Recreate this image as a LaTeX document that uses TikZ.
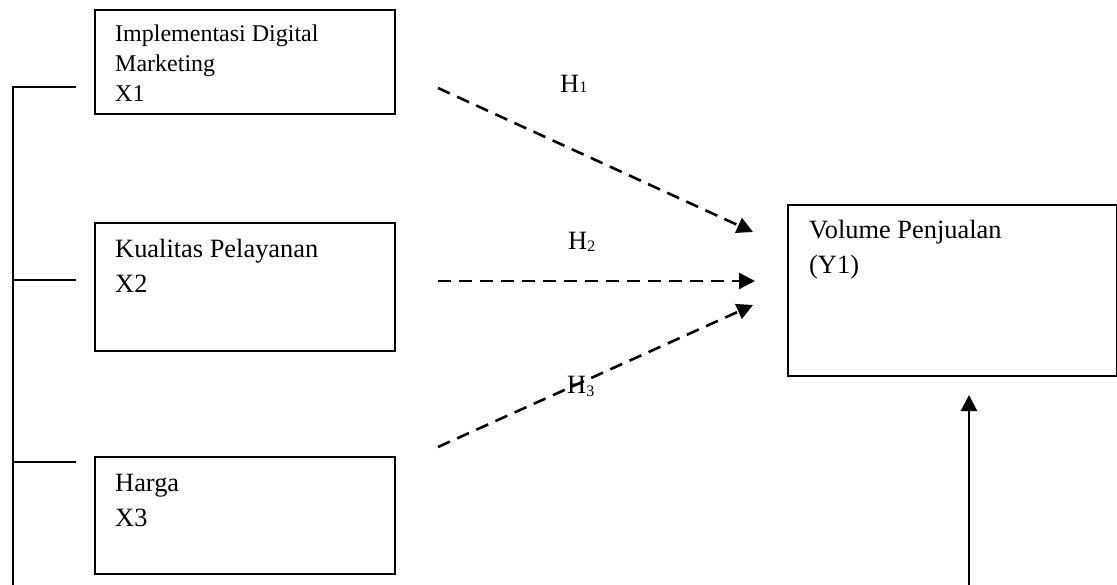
\documentclass[tikz,border=0pt]{standalone}
\usepackage{fontspec}
\setmainfont{Liberation Serif}
\usetikzlibrary{arrows.meta}
\begin{document}
\begin{tikzpicture}[x=1pt,y=-1pt,
  box/.style={draw, line width=1.8pt, inner sep=0pt, anchor=north west},
  txt/.style={inner sep=0pt, anchor=base west, align=left, font=\fontsize{26.4}{35}\selectfont},
  hyp/.style={inner sep=0pt, anchor=base west, font=\fontsize{26.4}{35}\selectfont},
  dasharrow/.style={line width=2.6pt, dash pattern=on 13pt off 8pt, -{Triangle[length=16pt,width=16pt]}},
  solidarrow/.style={line width=2pt, -{Triangle[length=16pt,width=16pt]}},
  bracket/.style={line width=1.8pt}]
\useasboundingbox (0,0) rectangle (1117,585);
% boxes
\node[box, minimum width=300pt, minimum height=104pt] (x1) at (94,9) {};
\node[box, minimum width=300pt, minimum height=128pt] (x2) at (94,222) {};
\node[box, minimum width=300pt, minimum height=117pt] (x3) at (94,456) {};
\node[box, minimum width=329pt, minimum height=171pt] (y) at (787,204) {};
% texts (base = baseline of the last line)
\node[txt, font=\fontsize{24}{30}\selectfont] (t1) at (115,102) {Implementasi Digital\\Marketing\\X1};
\node[txt] (t2) at (115,293) {Kualitas Pelayanan\\X2};
\node[txt] (t3) at (115,526) {Harga\\X3};
\node[txt] (ty) at (809,274) {Volume Penjualan\\(Y1)};
% hypothesis labels
\node[hyp] (h1) at (560,93) {H{\fontsize{16}{16}\selectfont 1}};
\node[hyp] (h2) at (568,250) {H\raisebox{-2pt}{\fontsize{16}{16}\selectfont 2}};
\node[hyp] (h3) at (567,393) {H\raisebox{-3pt}{\fontsize{16}{16}\selectfont 3}};
% bracket on the left
\coordinate (b0) at (13,585);
\coordinate (b1) at (13,87);
\coordinate (b2) at (13,280);
\coordinate (b3) at (13,462);
\coordinate (e1) at (76,87);
\coordinate (e2) at (76,280);
\coordinate (e3) at (76,462);
\draw[bracket] (b0) -- (b1) -- (e1);
\draw[bracket] (b2) -- (e2);
\draw[bracket] (b3) -- (e3);
% dashed arrows
\coordinate (s1) at (438,88);
\coordinate (s2) at (438,281);
\coordinate (s3) at (438,447);
\coordinate (d1) at (753,232);
\coordinate (d2) at (755,281);
\coordinate (d3) at (753,305);
\draw[dasharrow] (s1) -- (d1);
\draw[dasharrow] (s2) -- (d2);
\draw[dasharrow] (s3) -- (d3);
% vertical arrow
\coordinate (v0) at (969,585);
\coordinate (v1) at (969,395);
\draw[solidarrow] (v0) -- (v1);
\end{tikzpicture}
\end{document}
